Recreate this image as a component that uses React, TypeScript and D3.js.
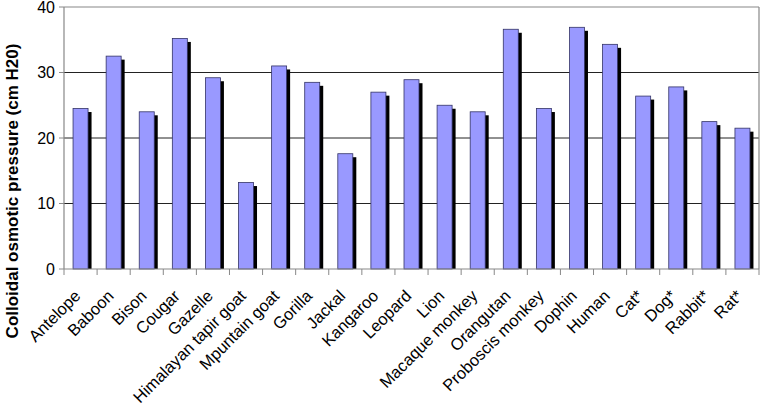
import React from "react";
import * as d3 from "d3";

const categories = [
  "Antelope", "Baboon", "Bison", "Cougar", "Gazelle", "Himalayan tapir goat",
  "Mpuntain goat", "Gorilla", "Jackal", "Kangaroo", "Leopard", "Lion",
  "Macaque monkey", "Orangutan", "Proboscis monkey", "Dophin", "Human",
  "Cat*", "Dog*", "Rabbit*", "Rat*",
];
const values = [
  24.5, 32.5, 24.0, 35.2, 29.2, 13.2, 31.0, 28.5, 17.6, 27.0, 28.9, 25.0,
  24.0, 36.6, 24.5, 36.9, 34.3, 26.4, 27.8, 22.5, 21.5,
];
const yTicks = [0, 10, 20, 30, 40];
const yTitle = "Colloidal osmotic pressure (cm H20)";

export default function App() {
  const W = 761, H = 407;
  const left = 64, right = 759, top = 7, bottom = 269;
  const x = d3.scaleBand<string>().domain(categories).range([left, right]);
  const y = d3.scaleLinear().domain([0, 40]).range([bottom, top]);
  const bw = 15;
  const sh = 3.5;
  const font = "Arial, 'Liberation Sans', sans-serif";
  const boundaries = d3.range(categories.length + 1).map((i) => left + i * x.step());

  return (
    <svg width={W} height={H} style={{ position: "absolute", left: 0, top: 0 }}>
      <rect x={0} y={0} width={W} height={H} fill="#fff" />
      {yTicks.filter((t) => t > 0 && t < 40).map((t) => (
        <line key={t} x1={left} x2={right} y1={y(t)} y2={y(t)} stroke="#222" strokeWidth={1} />
      ))}
      <line x1={left} x2={right} y1={y(40)} y2={y(40)} stroke="#888" strokeWidth={1.2} />
      <line x1={right} x2={right} y1={y(40)} y2={bottom} stroke="#888" strokeWidth={1.2} />
      {categories.map((c, i) => {
        const cx = (x(c) as number) + x.bandwidth() / 2;
        const yt = y(values[i]);
        return (
          <g key={c}>
            <rect x={cx - bw / 2 + sh} y={yt + sh} width={bw} height={bottom - yt - sh} fill="#000" />
            <rect x={cx - bw / 2} y={yt} width={bw} height={bottom - yt} fill="#9999ff" stroke="#333366" strokeWidth={0.8} />
          </g>
        );
      })}
      <line x1={left} x2={left} y1={top} y2={bottom} stroke="#888" strokeWidth={1.2} />
      <line x1={left} x2={right} y1={bottom} y2={bottom} stroke="#888" strokeWidth={1.2} />
      {yTicks.map((t) => (
        <g key={t}>
          <line x1={left - 5} x2={left} y1={y(t)} y2={y(t)} stroke="#888" />
          <text x={left - 9} y={y(t)} dy="0.36em" textAnchor="end" fontFamily={font} fontSize={16} fill="#000">
            {t}
          </text>
        </g>
      ))}
      {boundaries.map((bx, i) => (
        <line key={i} x1={bx} x2={bx} y1={bottom} y2={bottom + 6} stroke="#888" />
      ))}
      {categories.map((c) => {
        const cx = (x(c) as number) + x.bandwidth() / 2;
        return (
          <text
            key={c}
            transform={`translate(${cx + 1},${bottom + 28}) rotate(-45)`}
            textAnchor="end"
            fontFamily={font}
            fontSize={16.5}
            fill="#000"
          >
            {c}
          </text>
        );
      })}
      <text
        transform={`translate(18,${191}) rotate(-90)`}
        textAnchor="middle"
        fontFamily={font}
        fontWeight="bold"
        fontSize={17}
        fill="#000"
      >
        {yTitle}
      </text>
    </svg>
  );
}
